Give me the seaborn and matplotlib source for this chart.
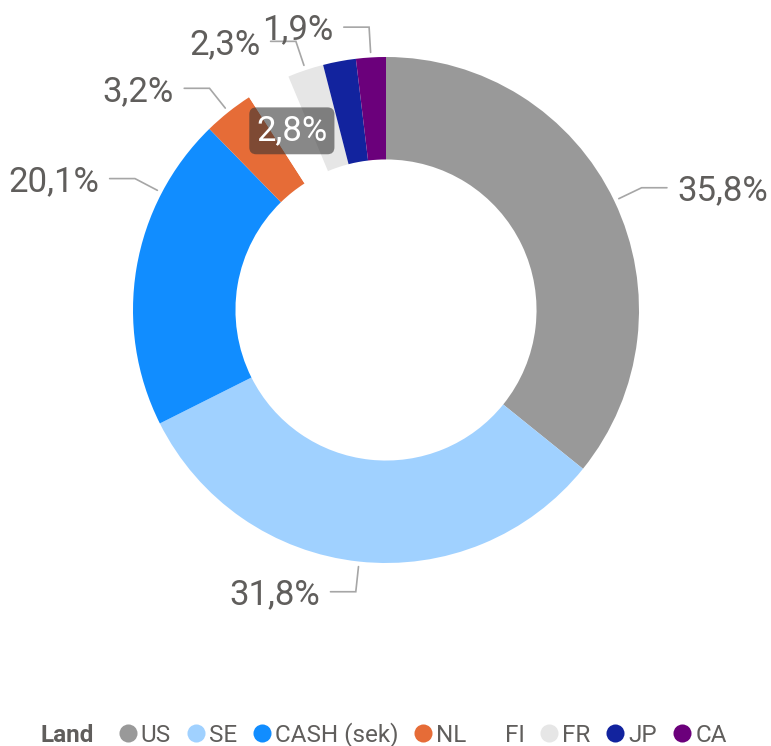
import numpy as np
import matplotlib.pyplot as plt
import seaborn as sns
from matplotlib.lines import Line2D

lands = ["US", "SE", "CASH (sek)", "NL", "FI", "FR", "JP", "CA"]
shares = [35.8, 31.8, 20.1, 3.2, 2.8, 2.3, 2.1, 1.9]
share_labels = ["35,8%", "31,8%", "20,1%", "3,2%", "2,8%", "2,3%", "", "1,9%"]
colors = ["#999999", "#A0D1FF", "#118DFF", "#E66C37",
          "#FFFFFF", "#E6E6E6", "#12239E", "#6B007B"]

# where along each wedge the leader line starts (0.5 = middle)
anchor_frac = [0.5, 0.5, 0.75, 0.5, 0.5, 0.5, 0.5, 0.5]

sns.set_style("white")
plt.rcParams["font.family"] = ["Roboto", "DejaVu Sans"]

text_col = "#605E5C"
line_col = "#A6A6A6"

fig = plt.figure(figsize=(7.71, 7.46), dpi=100)
ax = fig.add_axes([0, 0, 1, 1])

wedges, _ = ax.pie(shares, colors=colors, startangle=90, counterclock=False,
                   radius=1, wedgeprops=dict(width=0.405, edgecolor="none"))

# pixel scale: radius 1 -> 253 px, centre at (386, 310) from top-left
ax.set_xlim(-386 / 253, 385 / 253)
ax.set_ylim(-436 / 253, 310 / 253)
ax.set_aspect("auto")
ax.axis("off")

for w, lab, frac in zip(wedges, share_labels, anchor_frac):
    if not lab:
        continue
    ang = np.deg2rad(w.theta2 - frac * (w.theta2 - w.theta1))
    c, s = np.cos(ang), np.sin(ang)
    if lab == "2,8%":
        # inside label with dark highlight box
        r = 0.8
        ax.text(r * c, r * s, lab, ha="center", va="center", color="white",
                fontsize=25,
                bbox=dict(boxstyle="round,pad=0.2,rounding_size=0.2",
                          fc="#333333", alpha=0.58, ec="none"))
        continue
    side = 1 if c >= 0 else -1
    x0, y0 = 1.02 * c, 1.02 * s
    x1, y1 = 1.12 * c, 1.12 * s
    x2 = x1 + side * 0.1
    ax.plot([x0, x1, x2], [y0, y1, y1], color=line_col, lw=1.2,
            solid_joinstyle="miter")
    ax.text(x2 + side * 0.04, y1 - 0.012, lab, ha="left" if side > 0 else "right",
            va="center", color=text_col, fontsize=25)

handles = [Line2D([], [], marker="o", ls="", markersize=13,
                  markerfacecolor=col, markeredgecolor="none") for col in colors]
fig.legend(handles, lands, loc="center left", bbox_to_anchor=(119 / 771, 11 / 746),
           ncol=8, frameon=False, handlelength=0.7, handletextpad=0.2,
           columnspacing=0.66, borderpad=0, borderaxespad=0,
           fontsize=17.5, labelcolor=text_col)
fig.text(40 / 771, 11 / 746, "Land", ha="left", va="center", fontsize=17.5,
         fontweight="bold", color=text_col)

fig.savefig("out.png", dpi=100)
